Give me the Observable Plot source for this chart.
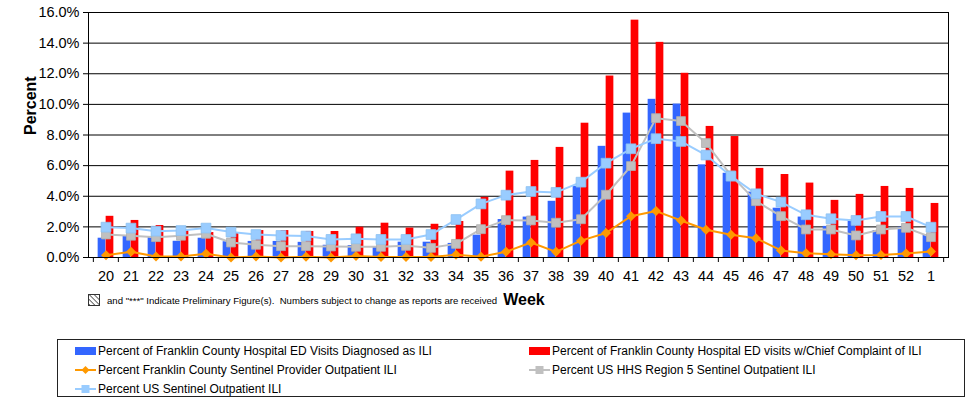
<!DOCTYPE html>
<html>
<head>
<meta charset="utf-8">
<script src="https://cdn.jsdelivr.net/npm/d3@7"></script>
<script src="https://cdn.jsdelivr.net/npm/@observablehq/plot@0.6"></script>
<style>
  html, body { margin: 0; padding: 0; background: #fff; }
  body { font-family: "Liberation Sans", Arial, sans-serif; }
  #wrap { position: relative; width: 970px; height: 401px; overflow: hidden; }
  #chart { position: absolute; left: 0; top: 0; }
  #note { position: absolute; left: 88px; top: 292px; height: 16px; display: flex; align-items: center; white-space: nowrap; }
  #note .small { font-size: 9.6px; margin-left: 7px; }
  #note .week { font-size: 16px; font-weight: bold; margin-left: 6px; }
  #legend { position: absolute; left: 57px; top: 339px; width: 908px; height: 58px; border: 1px solid #222; box-sizing: border-box; }
  .item { position: absolute; display: flex; align-items: center; font-size: 12px; white-space: nowrap; height: 14px; }
  .item svg { margin-right: 2px; }
</style>
</head>
<body>
<div id="wrap">
  <div id="chart"></div>
  <div id="note"></div>
  <div id="legend"></div>
</div>
<script>
const weeks = ["20","21","22","23","24","25","26","27","28","29","30","31","32","33","34","35","36","37","38","39","40","41","42","43","44","45","46","47","48","49","50","51","52","1"];

const edDiagnosed = [1.26,1.40,1.35,1.06,1.26,1.03,1.05,1.05,0.99,0.80,0.78,0.70,1.00,1.00,0.92,1.46,2.48,2.64,3.67,4.65,7.26,9.43,10.33,10.02,6.05,5.50,4.27,3.22,2.64,2.03,2.42,1.76,1.98,1.48];
const edComplaint = [2.69,2.42,2.09,1.76,1.63,1.57,1.76,1.76,1.70,1.70,1.98,2.24,1.92,2.17,2.35,3.93,5.64,6.34,7.19,8.77,11.85,15.50,14.05,12.03,8.56,7.90,5.82,5.42,4.86,3.73,4.12,4.64,4.51,3.53];
const fcSentinel = [0.15,0.37,0.06,0.06,0.24,0.00,0.06,0.00,0.05,0.00,0.10,0.03,0.03,0.03,0.18,0.05,0.38,0.98,0.37,1.10,1.60,2.70,3.03,2.42,1.81,1.48,1.26,0.46,0.28,0.22,0.15,0.17,0.26,0.39];
const hhsRegion5 = [1.50,1.42,1.33,1.42,1.55,0.98,0.83,0.74,0.74,0.72,0.70,0.70,0.76,0.63,0.89,1.85,2.44,2.42,2.27,2.50,4.10,5.97,9.10,8.91,7.47,5.36,3.68,2.70,1.83,1.83,1.44,1.83,1.94,1.33];
const usSentinel = [1.98,1.92,1.72,1.76,1.92,1.66,1.50,1.44,1.40,1.18,1.22,1.18,1.18,1.50,2.48,3.50,4.07,4.31,4.25,4.92,6.16,7.10,7.76,7.58,6.69,5.31,4.16,3.62,2.79,2.53,2.42,2.68,2.68,1.98];
const yTicks = [0,2,4,6,8,10,12,14,16];

const seriesNames = [
  "Percent of Franklin County Hospital ED Visits Diagnosed as ILI",
  "Percent of Franklin County Hospital ED visits w/Chief Complaint of ILI",
  "Percent Franklin County Sentinel Provider Outpatient ILI",
  "Percent US HHS Region 5 Sentinel Outpatient ILI",
  "Percent US Sentinel Outpatient ILI"
];

const rows = weeks.map((w, i) => ({
  week: w,
  edDiagnosed: edDiagnosed[i],
  edComplaint: edComplaint[i],
  fcSentinel: fcSentinel[i],
  hhsRegion5: hhsRegion5[i],
  usSentinel: usSentinel[i]
}));

const W = 970, H = 290, ML = 88, MR = 22, MT = 12, MB = 33;
const bw = (W - ML - MR) / weeks.length;
const half = bw / 2;
const barW = 8;

const C = { blue: "#3366FF", red: "#FF0000", orange: "#FF9900", gray: "#C0C0C0", lblue: "#99CCFF" };
const font = "'Liberation Sans', Arial, sans-serif";

const chart = Plot.plot({
  width: W, height: H,
  marginLeft: ML, marginRight: MR, marginTop: MT, marginBottom: MB,
  style: { fontFamily: font, fontSize: "14.5px", color: "#000", background: "#fff" },
  x: { type: "band", domain: weeks, padding: 0 },
  y: { domain: [0, 16] },
  marks: [
    Plot.gridY(yTicks, { stroke: "#000", strokeOpacity: 1, strokeWidth: 1 }),
    Plot.barY(rows, { x: "week", y: "edDiagnosed", fill: C.blue, insetLeft: half - barW, insetRight: half }),
    Plot.barY(rows, { x: "week", y: "edComplaint", fill: C.red, insetLeft: half, insetRight: half - barW }),
    Plot.line(rows, { x: "week", y: "fcSentinel", stroke: C.orange, strokeWidth: 2 }),
    Plot.dot(rows, { x: "week", y: "fcSentinel", symbol: "diamond2", r: 4.5, fill: C.orange, stroke: "none" }),
    Plot.line(rows, { x: "week", y: "hhsRegion5", stroke: C.gray, strokeWidth: 2 }),
    Plot.dot(rows, { x: "week", y: "hhsRegion5", symbol: "square", r: 5, fill: C.gray, stroke: "#AFAFAF", strokeWidth: 0.8 }),
    Plot.line(rows, { x: "week", y: "usSentinel", stroke: C.lblue, strokeWidth: 2 }),
    Plot.dot(rows, { x: "week", y: "usSentinel", symbol: "square", r: 5.5, fill: C.lblue, stroke: "#8CC0F0", strokeWidth: 0.8 }),
    Plot.frame({ stroke: "#000" }),
    Plot.axisY(yTicks, { tickSize: 5, tickPadding: 4, tickFormat: d => d.toFixed(1) + "%", label: null, fontSize: 14.5 }),
    Plot.axisX({ tickSize: 0, tickPadding: 13, label: null, fontSize: 14.5 }),
    Plot.axisX({ tickSize: 5, tickFormat: () => "", label: null, dx: -half }),
    Plot.axisX([weeks[weeks.length - 1]], { tickSize: 5, tickFormat: () => "", label: null, dx: half }),
    Plot.text(["Percent"], { frameAnchor: "left", dx: -58, rotate: -90, fontSize: 16, fontWeight: "bold", fill: "#000" })
  ]
});
document.getElementById("chart").appendChild(chart);

// Note line below the chart
document.getElementById("note").innerHTML =
  '<svg width="12" height="12" viewBox="0 0 12 12"><defs><pattern id="hatch" width="3.5" height="3.5" patternUnits="userSpaceOnUse" patternTransform="rotate(-45)"><rect width="3.5" height="3.5" fill="#fff"/><line x1="0" y1="0" x2="0" y2="3.5" stroke="#444" stroke-width="1.6"/></pattern></defs><rect x="0.5" y="0.5" width="11" height="11" fill="url(#hatch)" stroke="#333"/></svg>' +
  '<span class="small">and "***" Indicate Preliminary Figure(s).&nbsp; Numbers subject to change as reports are received</span>' +
  '<span class="week">Week</span>';

// Legend
const legend = document.getElementById("legend");
const swatch = (kind, color) => {
  if (kind === "bar") return `<svg width="21" height="10"><rect x="0" y="1" width="21" height="8" fill="${color}"/></svg>`;
  if (kind === "diamond") return `<svg width="21" height="10"><line x1="0" y1="5" x2="21" y2="5" stroke="${color}" stroke-width="2"/><path d="M10.5 1 L14.5 5 L10.5 9 L6.5 5 Z" fill="${color}"/></svg>`;
  return `<svg width="21" height="10"><line x1="0" y1="5" x2="21" y2="5" stroke="${color}" stroke-width="2"/><rect x="6.5" y="1" width="8" height="8" fill="${color}"/></svg>`;
};
const items = [
  { name: seriesNames[0], kind: "bar", color: C.blue, left: 17, top: 4 },
  { name: seriesNames[1], kind: "bar", color: C.red, left: 471, top: 4 },
  { name: seriesNames[2], kind: "diamond", color: C.orange, left: 17, top: 23 },
  { name: seriesNames[3], kind: "square", color: C.gray, left: 471, top: 23 },
  { name: seriesNames[4], kind: "square", color: C.lblue, left: 17, top: 42 }
];
for (const it of items) {
  const d = document.createElement("div");
  d.className = "item";
  d.style.left = it.left + "px";
  d.style.top = it.top + "px";
  d.innerHTML = swatch(it.kind, it.color) + `<span>${it.name}</span>`;
  legend.appendChild(d);
}
</script>
</body>
</html>
